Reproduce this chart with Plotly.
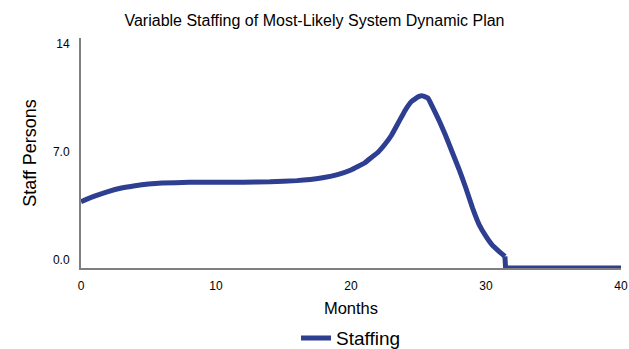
import plotly.graph_objects as go

months = [0, 1, 2, 3, 4, 5, 6, 8, 10, 12, 14, 16, 17, 18, 19, 20, 21, 21.5, 22, 22.5, 23, 23.5, 24, 24.5, 25, 25.3, 25.7, 26, 26.5, 27, 27.5, 28, 28.5, 29, 29.5, 30, 30.5, 31, 31.4, 31.45, 40]
staffing = [4.3, 4.65, 4.95, 5.18, 5.33, 5.44, 5.5, 5.55, 5.56, 5.56, 5.58, 5.66, 5.74, 5.86, 6.05, 6.35, 6.8, 7.15, 7.5, 8.0, 8.6, 9.4, 10.2, 10.8, 11.1, 11.15, 11.0, 10.5, 9.6, 8.6, 7.5, 6.4, 5.2, 3.9, 2.8, 2.05, 1.45, 1.05, 0.75, 0, 0]
y_tickvals = [0, 7, 14]
y_ticktext = ["0.0", "7.0", "14"]
x_tickvals = [0, 10, 20, 30, 40]

W, H = 629, 349
font = "Liberation Sans, Arial, sans-serif"
color = "#2E3F92"
n = len(months) - 2  # smooth part ends before the drop to zero
fig = go.Figure()
fig.add_trace(go.Scatter(x=months[:n], y=staffing[:n], mode="lines", name="Staffing",
                         legendgroup="s",
                         line=dict(color=color, width=5, shape="spline", smoothing=0.3)))
fig.add_trace(go.Scatter(x=months[n - 1:], y=staffing[n - 1:], mode="lines", name="Staffing",
                         legendgroup="s", showlegend=False,
                         line=dict(color=color, width=5)))
fig.update_layout(
    width=W, height=H,
    margin=dict(l=81, r=8, t=38, b=81, autoexpand=False),
    paper_bgcolor="white", plot_bgcolor="white",
    font=dict(family=font, color="#000"),
    title=dict(text="Variable Staffing of Most-Likely System Dynamic Plan", x=0.5, xanchor="center",
               y=1 - 20 / H, yanchor="middle", font=dict(size=16)),
    showlegend=True,
    legend=dict(orientation="h", x=0.5, xanchor="center", y=-0.305, yanchor="middle",
                font=dict(size=19)),
)
fig.update_xaxes(range=[0, 40], tickvals=x_tickvals, showgrid=False, zeroline=False,
                 showline=True, linecolor="#7f7f7f", linewidth=2, ticks="",
                 tickfont=dict(size=12), automargin=False, ticklabelstandoff=6,
                 title=dict(text="Months", font=dict(size=16.5), standoff=10))
fig.update_yaxes(range=[0, 14.9], tickvals=y_tickvals, ticktext=y_ticktext, showgrid=False,
                 zeroline=False, showline=True, linecolor="#7f7f7f", linewidth=2, ticks="",
                 tickfont=dict(size=12), automargin=False, ticklabelstandoff=7, ticklabelshift=-8,
                 title=dict(text="Staff Persons", font=dict(size=18), standoff=12))
fig.write_html("out.html", config={"displayModeBar": False},
               post_script="document.body.style.margin='0';")
